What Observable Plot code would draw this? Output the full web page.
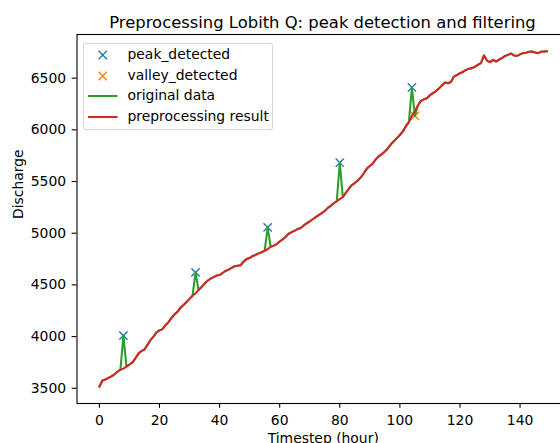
<!DOCTYPE html>
<html>
<head>
<meta charset="utf-8">
<script src="https://cdn.jsdelivr.net/npm/d3@7"></script>
<script src="https://cdn.jsdelivr.net/npm/@observablehq/plot@0.6"></script>
<style>
  html, body { margin: 0; padding: 0; background: #fff; overflow: hidden; }
  body { width: 560px; height: 443px; position: relative; font-family: "DejaVu Sans", sans-serif; }
  #title { position: absolute; left: 76.5px; width: 492px; top: 0; height: 30px; box-sizing: border-box;
           padding-top: 12.8px; text-align: center; font-size: 16.4px; color: #000; white-space: nowrap; }
  #chart { position: absolute; left: 0; top: 30px; width: 569px; }
  #legend { position: absolute; left: 82.5px; top: 42.5px; width: 190.5px; height: 87.5px; box-sizing: border-box;
            border: 1px solid rgba(204,204,204,0.8); border-radius: 3px; background: rgba(255,255,255,0.8); }
  .row { position: absolute; left: 0; height: 20px; font-size: 13.9px; color: #000; }
  .row svg { position: absolute; left: 4px; top: 0; }
  .row span { position: absolute; left: 44px; white-space: nowrap; line-height: 20px; top: -1px; }
</style>
</head>
<body>
<div id="title">Preprocessing Lobith Q: peak detection and filtering</div>
<div id="chart"></div>
<div id="legend"></div>
<script>
// Discharge after filtering, one value per hourly timestep (0..149)
const preprocessed = [
  3515, 3575, 3585, 3600, 3615, 3635, 3660, 3680, 3690, 3710,
  3730, 3750, 3790, 3835, 3860, 3875, 3920, 3965, 4000, 4040,
  4060, 4072, 4110, 4140, 4180, 4215, 4240, 4280, 4305, 4335,
  4365, 4395, 4420, 4450, 4480, 4512, 4540, 4560, 4575, 4590,
  4595, 4615, 4635, 4648, 4665, 4680, 4685, 4690, 4725, 4750,
  4760, 4780, 4790, 4805, 4815, 4830, 4845, 4870, 4880, 4895,
  4920, 4940, 4965, 4995, 5010, 5025, 5040, 5050, 5075, 5095,
  5115, 5135, 5155, 5175, 5195, 5215, 5245, 5265, 5290, 5310,
  5330, 5350, 5390, 5430, 5465, 5485, 5510, 5540, 5580, 5625,
  5650, 5675, 5715, 5745, 5765, 5790, 5820, 5860, 5890, 5920,
  5950, 5985, 6035, 6075, 6135, 6180, 6235, 6280, 6295, 6305,
  6335, 6355, 6375, 6400, 6430, 6458, 6450, 6462, 6515, 6530,
  6548, 6560, 6580, 6590, 6597, 6610, 6630, 6645, 6720, 6670,
  6655, 6677, 6661, 6680, 6694, 6715, 6725, 6738, 6720, 6716,
  6730, 6742, 6745, 6755, 6758, 6748, 6742, 6755, 6758, 6760
];

// Detected spikes in the raw series
const peakSteps   = [8, 32, 56, 80, 104];
const peakValues  = [4010, 4621, 5057, 5682, 6410];
const valleySteps = [105];
const valleyValues = [6135];

const xTicks = [0, 20, 40, 60, 80, 100, 120, 140];
const yTicks = [3500, 4000, 4500, 5000, 5500, 6000, 6500];

const colors = { peak: "#1f77b4", valley: "#ff7f0e", original: "#2ca02c", result: "#d62728" };

// Raw series = filtered series with the detected spikes put back in
const original = preprocessed.slice();
peakSteps.forEach((t, i) => { original[t] = peakValues[i]; });
valleySteps.forEach((t, i) => { original[t] = valleyValues[i]; });

const resultRows = preprocessed.map((v, t) => ({ t, v }));
const originalRows = original.map((v, t) => ({ t, v }));
const peakRows = peakSteps.map((t, i) => ({ t, v: peakValues[i] }));
const valleyRows = valleySteps.map((t, i) => ({ t, v: valleyValues[i] }));

const n = preprocessed.length - 1;
const yMin = d3.min(original), yMax = d3.max(original);
const xPad = n * 0.05, yPad = (yMax - yMin) * 0.05;

const chart = Plot.plot({
  width: 569,
  height: 413,
  marginLeft: 76.5,
  marginRight: 0,
  marginTop: 4,
  marginBottom: 40,
  style: { fontFamily: "DejaVu Sans, sans-serif", fontSize: "13.9px", color: "#000", background: "transparent", overflow: "visible", maxWidth: "none" },
  x: { domain: [-xPad, n + xPad] },
  y: { domain: [yMin - yPad, yMax + yPad] },
  marks: [
    Plot.dot(peakRows, { x: "t", y: "v", symbol: "times", r: 3.87, stroke: colors.peak, strokeWidth: 1.39 }),
    Plot.dot(valleyRows, { x: "t", y: "v", symbol: "times", r: 3.87, stroke: colors.valley, strokeWidth: 1.39 }),
    Plot.line(originalRows, { x: "t", y: "v", stroke: colors.original, strokeWidth: 2.08 }),
    Plot.line(resultRows, { x: "t", y: "v", stroke: colors.result, strokeWidth: 2.08 }),
    Plot.frame({ stroke: "#000", strokeWidth: 1.1 }),
    Plot.axisX({ ticks: xTicks, tickSize: 4.86, tickPadding: 7, tickFormat: d => String(d), label: null, strokeWidth: 1.1 }),
    Plot.axisY({ ticks: yTicks, tickSize: 4.86, tickPadding: 6, tickFormat: d => String(d), label: null, strokeWidth: 1.1 }),
    Plot.text(["Timestep (hour)"], { frameAnchor: "bottom", dy: 39, lineAnchor: "bottom", fontSize: 13.9, fill: "#000" }),
    Plot.text(["Discharge"], { frameAnchor: "left", dx: -58, rotate: -90, fontSize: 13.9, fill: "#000" })
  ]
});
document.getElementById("chart").appendChild(chart);

// Legend drawn inside the axes, upper left
const legendItems = [
  { label: "peak_detected", kind: "marker", color: colors.peak },
  { label: "valley_detected", kind: "marker", color: colors.valley },
  { label: "original data", kind: "line", color: colors.original },
  { label: "preprocessing result", kind: "line", color: colors.result }
];
const legend = d3.select("#legend");
const rowTops = [1.5, 22, 42.8, 63.5];
legendItems.forEach((item, i) => {
  const row = legend.append("div").attr("class", "row").style("top", rowTops[i] + "px");
  const svg = row.append("svg").attr("width", 32).attr("height", 20);
  if (item.kind === "line") {
    svg.append("line").attr("x1", 0).attr("x2", 29.5).attr("y1", 10).attr("y2", 10)
      .attr("stroke", item.color).attr("stroke-width", 2.08);
  } else {
    svg.append("path").attr("d", "M10.6,5.8L18.9,14.2M10.6,14.2L18.9,5.8")
      .attr("stroke", item.color).attr("stroke-width", 1.39).attr("fill", "none");
  }
  row.append("span").text(item.label);
});
</script>
</body>
</html>
